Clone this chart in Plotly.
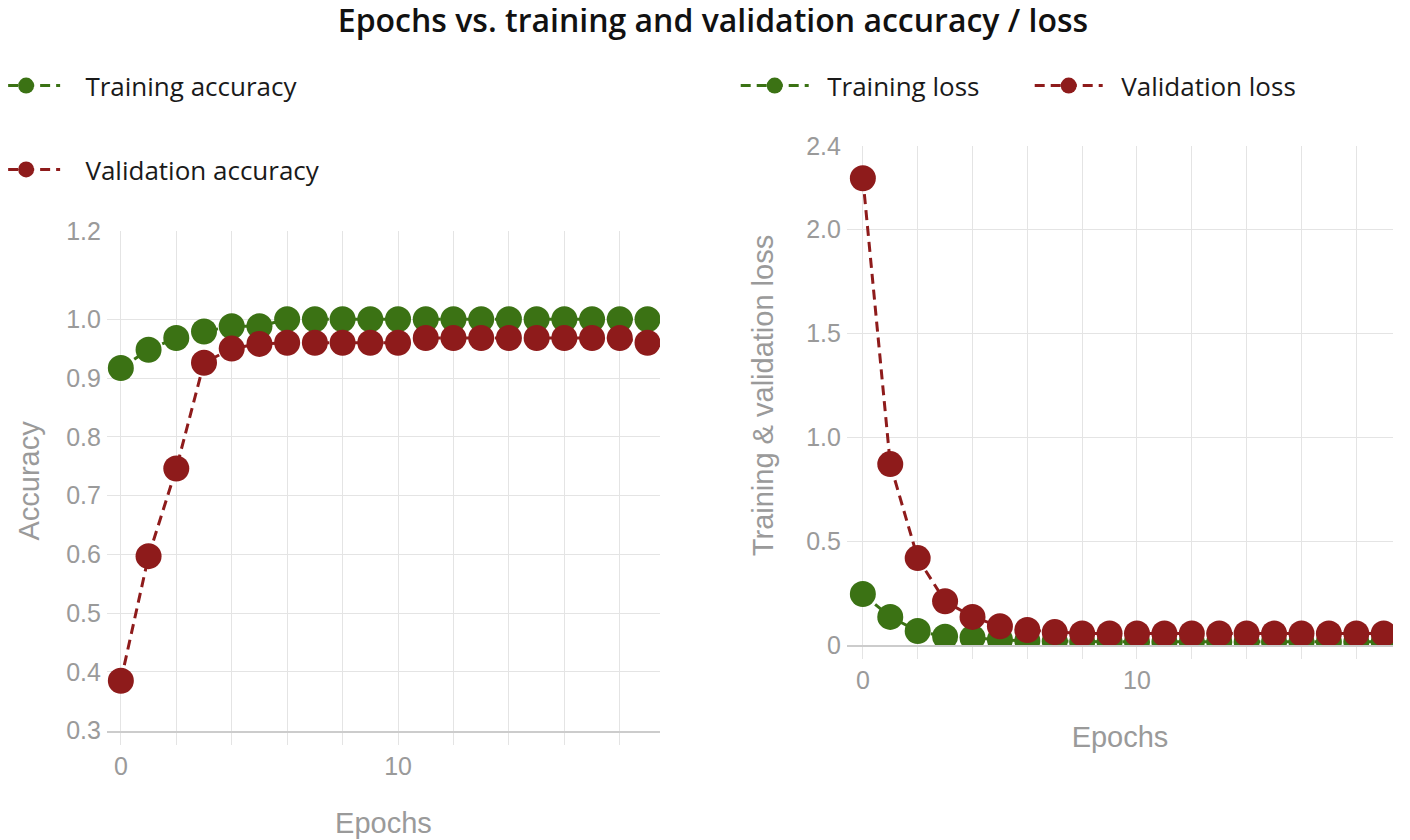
import plotly.graph_objects as go

epochs = list(range(20))

train_acc = [0.917, 0.948, 0.968, 0.979, 0.988, 0.988, 1.0, 1.0, 1.0, 1.0,
             1.0, 1.0, 1.0, 1.0, 1.0, 1.0, 1.0, 1.0, 1.0, 1.0]
val_acc = [0.385, 0.597, 0.746, 0.926, 0.95, 0.958, 0.96, 0.96, 0.96, 0.96,
           0.96, 0.968, 0.968, 0.968, 0.968, 0.968, 0.968, 0.968, 0.968, 0.96]

train_loss = [0.245, 0.135, 0.067, 0.04, 0.035, 0.025, 0.02, 0.018, 0.015, 0.015,
              0.015, 0.015, 0.015, 0.015, 0.015, 0.015, 0.015, 0.015, 0.015, 0.015]
val_loss = [2.245, 0.87, 0.418, 0.21, 0.135, 0.09, 0.072, 0.062, 0.055, 0.055,
            0.055, 0.055, 0.055, 0.055, 0.055, 0.055, 0.055, 0.055, 0.055, 0.055]

acc_tickvals = [0.3, 0.4, 0.5, 0.6, 0.7, 0.8, 0.9, 1.0, 1.15]
acc_ticktext = ["0.3", "0.4", "0.5", "0.6", "0.7", "0.8", "0.9", "1.0", "1.2"]
loss_tickvals = [0, 0.5, 1.0, 1.5, 2.0, 2.4]
loss_ticktext = ["0", "0.5", "1.0", "1.5", "2.0", "2.4"]

GREEN = "#3b7214"
RED = "#8e1b1b"
GREY = "#9a9a9a"
GRID = "#e4e4e4"

fig = go.Figure()


def add_series(y, name, color, xa, ya, legend, group, pad):
    fig.add_trace(go.Scatter(
        x=epochs, y=y, name="\u00a0" * pad + name, mode="lines+markers",
        line=dict(color=color, width=3, dash="10px,6px"),
        marker=dict(color=color, size=26),
        xaxis=xa, yaxis=ya, legend=legend, legendgroup=group,
    ))


add_series(train_acc, "Training accuracy", GREEN, "x", "y", "legend", "a", 3)
add_series(val_acc, "Validation accuracy", RED, "x", "y", "legend", "b", 3)
add_series(train_loss, "Training loss", GREEN, "x2", "y2", "legend2", "c", 2)
add_series(val_loss, "Validation loss", RED, "x2", "y2", "legend2", "d", 2)

axis_font = dict(family="Liberation Sans, Arial", size=25, color=GREY)
title_font = dict(family="Liberation Sans, Arial", size=29, color=GREY)
legend_font = dict(family="Open Sans, Noto Sans", size=26, color="#1a1a1a")
xcommon = dict(
    tickvals=[0, 10], showgrid=True, gridcolor=GRID,
    tickfont=axis_font, showline=True, linecolor="#cccccc", linewidth=2,
    zeroline=False, automargin=False,
    ticks="outside", ticklen=12, tickcolor=GRID, tickwidth=1,
    minor=dict(dtick=2, tick0=0, showgrid=True, gridcolor=GRID, gridwidth=1,
               ticks="outside", ticklen=12, tickcolor=GRID),
)
ycommon = dict(
    showgrid=True, gridcolor=GRID, gridwidth=1, zeroline=False,
    tickfont=axis_font, automargin=False, ticks="", ticklabelstandoff=5,
)

fig.update_layout(
    width=1410, height=840,
    margin=dict(l=0, r=0, t=0, b=0, autoexpand=False),
    paper_bgcolor="white", plot_bgcolor="white",
    title=dict(
        text="Epochs vs. training and validation accuracy / loss",
        x=0.5, xanchor="center", y=0.9985, yanchor="top",
        font=dict(family="Open Sans, Noto Sans", size=32, weight=600, color="#111111"),
    ),
    xaxis=dict(domain=[0.0702, 0.4624], anchor="y", range=[-0.5, 19.45],
               title=dict(text="Epochs", font=title_font, standoff=34), **xcommon),
    yaxis=dict(domain=[0.1396, 0.7345], anchor="x", range=[0.3, 1.15],
               tickvals=acc_tickvals, ticktext=acc_ticktext,
               title=dict(text="Accuracy", font=title_font, standoff=18), **ycommon),
    xaxis2=dict(domain=[0.5950, 0.9823], anchor="y2", range=[-0.58, 19.34],
                title=dict(text="Epochs", font=title_font, standoff=34), **xcommon),
    yaxis2=dict(domain=[0.2417, 0.8357], anchor="x2", range=[0, 2.4],
                tickvals=loss_tickvals, ticktext=loss_ticktext,
                title=dict(text="Training & validation loss", font=title_font, standoff=24),
                **ycommon),
    legend=dict(
        x=-0.0148, y=0.9355, xanchor="left", yanchor="top",
        orientation="v", itemwidth=68, tracegroupgap=47,
        font=legend_font, bgcolor="rgba(0,0,0,0)",
    ),
    legend2=dict(
        x=0.5161, y=0.9355, xanchor="left", yanchor="top",
        orientation="h", itemwidth=68, entrywidth=211, entrywidthmode="pixels",
        font=legend_font, bgcolor="rgba(0,0,0,0)",
    ),
)

fig.write_html("out.html")
